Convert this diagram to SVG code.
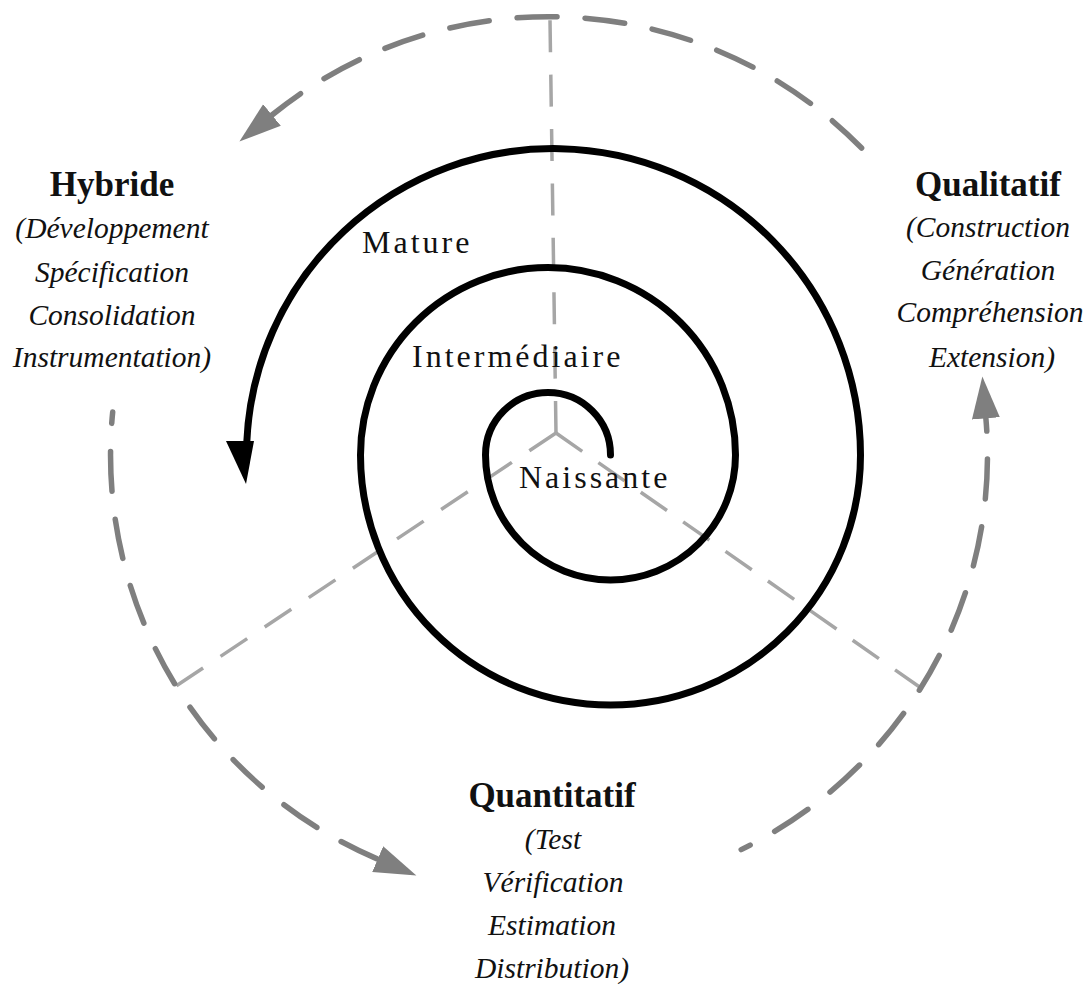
<svg xmlns="http://www.w3.org/2000/svg" width="1084" height="985" viewBox="0 0 1084 985">
  <style>
    .lbl { font-family: "Liberation Serif", "DejaVu Serif", serif; fill: #111; }
    .title { font-size: 35px; font-weight: bold; text-anchor: middle; }
    .item { font-size: 29.5px; font-style: italic; text-anchor: middle; }
    .stage { font-size: 32px; letter-spacing: 3px; }
    .cycle { fill: none; stroke: #7f7f7f; stroke-width: 5.5; stroke-linecap: round; stroke-dasharray: 40 28; }
    .radial { fill: none; stroke: #a6a6a6; stroke-width: 3.5; }
    .spiral { fill: none; stroke: #000; stroke-width: 7; stroke-linecap: round; }
  </style>
  <defs>
    <marker id="gh" markerUnits="userSpaceOnUse" markerWidth="44" markerHeight="30" refX="0" refY="14" orient="auto">
      <path d="M0,0 L42,14 L0,28 Z" fill="#7f7f7f"/>
    </marker>
  </defs>
  <rect width="1084" height="985" fill="#fff"/>

  <g id="dividers">
    <line class="radial" x1="556" y1="433" x2="550" y2="20" stroke-dasharray="32 22.4"/>
    <line class="radial" x1="556" y1="433" x2="176" y2="686" stroke-dasharray="32 21"/>
    <line class="radial" x1="556" y1="433" x2="921" y2="688" stroke-dasharray="32 19.7"/>
  </g>

  <g id="spiral">
    <path class="spiral" d="M610.5,455 A62.5,62.5 0 0 0 485.5,455 A125,125 0 0 0 735.5,455 A187.5,187.5 0 0 0 360.5,455 A250,250 0 0 0 860.5,455 A307,307 0 0 0 246.8,442"/>
    <polygon points="226,441 254,441 246,484" fill="#000"/>
  </g>

  <g id="connectors">
    <path class="cycle" d="M861.6,148 A438.5,438.5 0 0 0 272,115" marker-end="url(#gh)"/>
    <path class="cycle" d="M112.7,412 A438.5,438.5 0 0 0 377.7,859.1" stroke-dashoffset="28.5" marker-end="url(#gh)"/>
    <path class="cycle" d="M741.2,849.6 A438.5,438.5 0 0 0 985.9,418.4" stroke-dashoffset="29.9" marker-end="url(#gh)"/>
  </g>

  <g id="stage-mature">
    <text class="lbl stage" x="362" y="253">Mature</text>
  </g>
  <g id="stage-intermediaire">
    <text class="lbl stage" x="412" y="367">Intermédiaire</text>
  </g>
  <g id="stage-naissante">
    <text class="lbl stage" x="519" y="488">Naissante</text>
  </g>

  <g id="hybride">
    <text class="lbl title" x="112" y="196">Hybride</text>
    <text class="lbl item" x="112" y="238">(Développement</text>
    <text class="lbl item" x="112" y="282">Spécification</text>
    <text class="lbl item" x="112" y="325">Consolidation</text>
    <text class="lbl item" x="112" y="367">Instrumentation)</text>
  </g>

  <g id="qualitatif">
    <text class="lbl title" x="988" y="196">Qualitatif</text>
    <text class="lbl item" x="988" y="237">(Construction</text>
    <text class="lbl item" x="988" y="280">Génération</text>
    <text class="lbl item" x="990" y="322">Compréhension</text>
    <text class="lbl item" x="992" y="367">Extension)</text>
  </g>

  <g id="quantitatif">
    <text class="lbl title" x="552" y="807">Quantitatif</text>
    <text class="lbl item" x="553" y="849">(Test</text>
    <text class="lbl item" x="553" y="892">Vérification</text>
    <text class="lbl item" x="552" y="935">Estimation</text>
    <text class="lbl item" x="552" y="978">Distribution)</text>
  </g>
</svg>
